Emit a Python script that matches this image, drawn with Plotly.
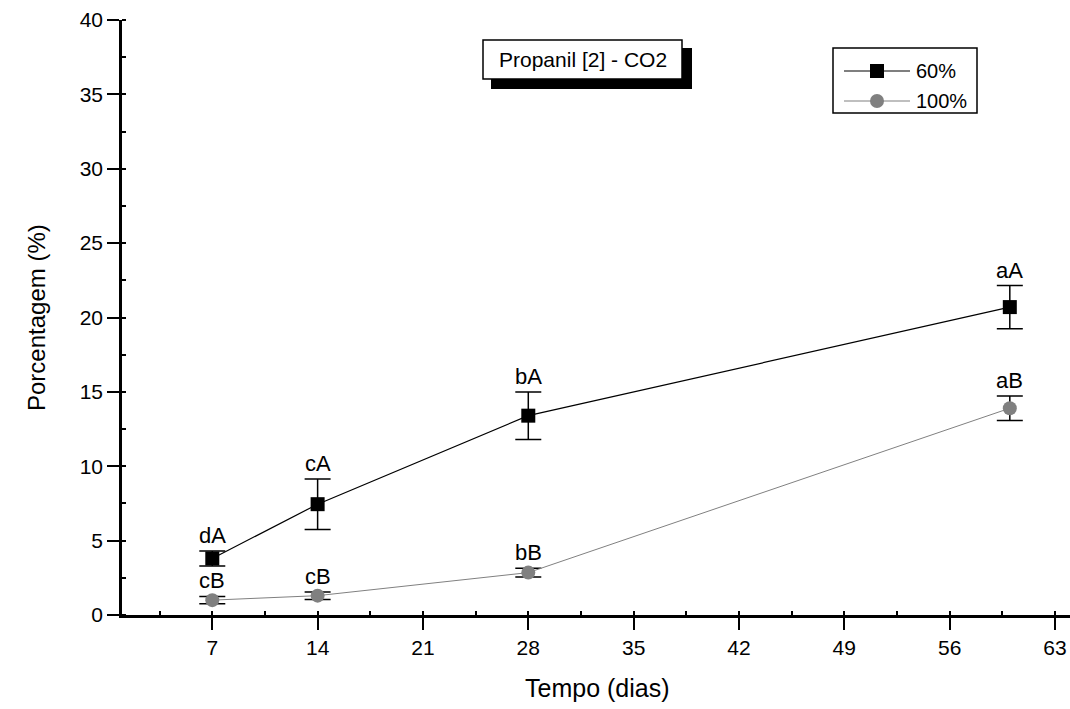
import plotly.graph_objects as go

# Mineralização (CO2) do propanil ao longo do tempo
dias = [7, 14, 28, 60]
pct_60 = [3.8, 7.45, 13.4, 20.7]
err_60 = [0.5, 1.7, 1.6, 1.45]
pct_100 = [1.0, 1.3, 2.85, 13.9]
err_100 = [0.25, 0.25, 0.3, 0.83]
letras_60 = ["dA", "cA", "bA", "aA"]
letras_100 = ["cB", "cB", "bB", "aB"]
x_ticks = [7, 14, 21, 28, 35, 42, 49, 56, 63]
y_ticks = [0, 5, 10, 15, 20, 25, 30, 35, 40]

W, H = 1070, 709
L, R, T, B = 122, 1070, 20, 615  # plot area in pixels
FONT = "Arial, Liberation Sans, sans-serif"
GRAY = "#808080"


def px(x):
    return (x - L) / (R - L)


def py(y):
    return (B - y) / (B - T)


fig = go.Figure()

fig.add_trace(go.Scatter(
    x=dias, y=pct_60, mode="lines+markers", name="60%",
    line=dict(color="black", width=1.2),
    marker=dict(symbol="square", size=14, color="black"),
    error_y=dict(type="data", array=err_60, color="black", thickness=1.5, width=13),
    showlegend=False, cliponaxis=False,
))
fig.add_trace(go.Scatter(
    x=dias, y=pct_100, mode="lines+markers", name="100%",
    line=dict(color=GRAY, width=1),
    marker=dict(symbol="circle", size=14, color=GRAY),
    error_y=dict(type="data", array=err_100, color="black", thickness=1.5, width=13),
    showlegend=False, cliponaxis=False,
))

annotations = []
for xs, ys, es, labs in [(dias, pct_60, err_60, letras_60), (dias, pct_100, err_100, letras_100)]:
    for x, y, e, t in zip(xs, ys, es, labs):
        annotations.append(dict(
            x=x, y=y + e, xref="x", yref="y", text=t, showarrow=False,
            yanchor="bottom", xanchor="center", yshift=1,
            font=dict(family=FONT, size=22, color="black"),
        ))

shapes = []
# Caixa do título com sombra
shapes.append(dict(type="rect", xref="paper", yref="paper",
                   x0=px(491), x1=px(692), y0=py(89), y1=py(48),
                   fillcolor="black", line=dict(width=0)))
shapes.append(dict(type="rect", xref="paper", yref="paper",
                   x0=px(483), x1=px(682), y0=py(79), y1=py(40),
                   fillcolor="white", line=dict(color="black", width=1.5)))
annotations.append(dict(x=px(582.5), y=py(60), xref="paper", yref="paper",
                        text="Propanil [2] - CO2", showarrow=False,
                        xanchor="center", yanchor="middle",
                        font=dict(family=FONT, size=21, color="black")))

# Legenda
shapes.append(dict(type="rect", xref="paper", yref="paper",
                   x0=px(833), x1=px(977), y0=py(113), y1=py(48),
                   fillcolor="white", line=dict(color="black", width=1.5)))
for yy, col, sym, lab in [(71, "black", "rect", "60%"), (101, GRAY, "circle", "100%")]:
    shapes.append(dict(type="line", xref="paper", yref="paper",
                       x0=px(844), x1=px(910), y0=py(yy), y1=py(yy),
                       line=dict(color=col, width=1.2)))
    shapes.append(dict(type=sym, xref="paper", yref="paper",
                       x0=px(870), x1=px(884), y0=py(yy + 7), y1=py(yy - 7),
                       fillcolor=col, line=dict(color=col, width=0)))
    annotations.append(dict(x=px(914), y=py(yy), xref="paper", yref="paper",
                            text=lab, showarrow=False, xanchor="left", yanchor="middle",
                            font=dict(family=FONT, size=20, color="black")))

# Títulos dos eixos
annotations.append(dict(x=px(597), y=py(688), xref="paper", yref="paper",
                        text="Tempo (dias)", showarrow=False,
                        xanchor="center", yanchor="middle",
                        font=dict(family=FONT, size=25, color="black")))
annotations.append(dict(x=px(36), y=py(318), xref="paper", yref="paper",
                        text="Porcentagem (%)", showarrow=False, textangle=-90,
                        xanchor="center", yanchor="middle",
                        font=dict(family=FONT, size=24, color="black")))

fig.update_layout(
    width=W, height=H,
    margin=dict(l=L, r=W - R, t=T, b=H - B, pad=0),
    paper_bgcolor="white", plot_bgcolor="white",
    font=dict(family=FONT, color="black"),
    shapes=shapes, annotations=annotations,
    showlegend=False,
)

fig.update_xaxes(
    range=[1, 64], tickvals=x_ticks, ticktext=[str(v) for v in x_ticks],
    showline=True, linecolor="black", linewidth=2.5,
    ticks="outside", ticklen=12, tickwidth=2, tickcolor="black",
    minor=dict(dtick=3.5, tick0=0, ticks="inside", ticklen=4, tickwidth=1.5, tickcolor="black"),
    showgrid=False, zeroline=False,
    tickfont=dict(family=FONT, size=21, color="black"),
)
fig.update_yaxes(
    range=[0, 40], tickvals=y_ticks, ticktext=[str(v) for v in y_ticks],
    showline=True, linecolor="black", linewidth=2.5,
    ticks="outside", ticklen=12, tickwidth=2, tickcolor="black",
    minor=dict(dtick=2.5, tick0=0, ticks="inside", ticklen=4, tickwidth=1.5, tickcolor="black"),
    showgrid=False, zeroline=False,
    tickfont=dict(family=FONT, size=21, color="black"),
)

fig.write_html("out.html")
